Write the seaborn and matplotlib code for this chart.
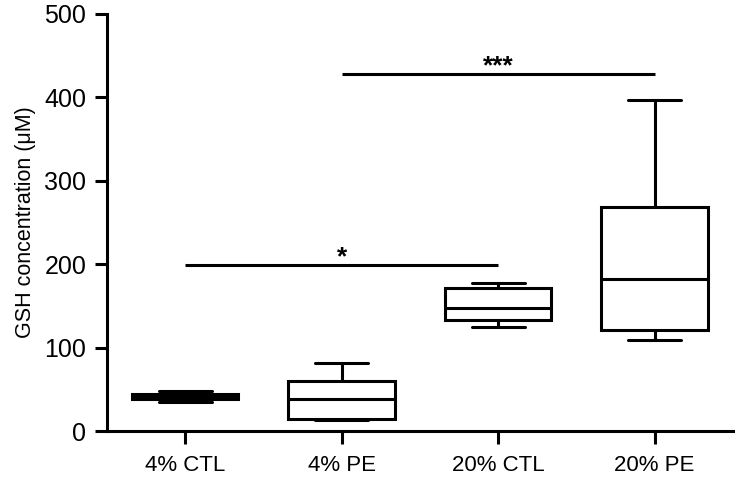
import pandas as pd
import matplotlib
matplotlib.use("Agg")
import matplotlib.pyplot as plt
import seaborn as sns

sns.set_style("ticks")
plt.rcParams['font.family'] = ['Liberation Sans', 'DejaVu Sans']
plt.rcParams.update({"text.color": "black", "axes.labelcolor": "black",
                     "xtick.color": "black", "ytick.color": "black",
                     "axes.edgecolor": "black"})

# five-number summaries: min, q1, median, q3, max
groups = ["4% CTL", "4% PE", "20% CTL", "20% PE"]
ctl4 = [35, 38, 41, 45, 48]
pe4 = [13, 15, 38, 60, 82]
ctl20 = [125, 133, 148, 172, 178]
pe20 = [109, 121, 182, 268, 397]

# significance bars: (from group, to group, height, label)
sig_pairs = [("4% CTL", "20% CTL", 199, "*"),
             ("4% PE", "20% PE", 428, "***")]

df = pd.DataFrame({
    "group": [g for g, v in zip(groups, [ctl4, pe4, ctl20, pe20]) for _ in v],
    "GSH": ctl4 + pe4 + ctl20 + pe20,
})

fig = plt.figure(figsize=(7.38, 4.78), dpi=100)
ax = fig.add_axes([0.145, 0.098, 0.848, 0.873])

lw = 2.2
sns.boxplot(x="group", y="GSH", data=df, order=groups, whis=(0, 100),
            width=0.68, color="white", linecolor="black", linewidth=lw,
            showfliers=False, ax=ax,
            boxprops=dict(facecolor="white", edgecolor="black", linewidth=lw),
            whiskerprops=dict(color="black", linewidth=lw),
            capprops=dict(color="black", linewidth=lw),
            medianprops=dict(color="black", linewidth=lw))
ax.set_xlim(-0.5, 3.5)
ax.set_ylim(0, 500)
ax.set_yticks([0, 100, 200, 300, 400, 500])

for a, b, h, lab in sig_pairs:
    x0, x1 = groups.index(a), groups.index(b)
    ax.plot([x0, x1], [h, h], color="black", lw=lw, solid_capstyle="butt")
    ax.text((x0 + x1) / 2, h - 5, lab, ha="center", va="bottom",
            fontsize=19, fontweight="bold")

sns.despine(ax=ax)
for s in ["left", "bottom"]:
    ax.spines[s].set_linewidth(lw)
ax.tick_params(axis="both", width=lw, length=9, color="black")
ax.tick_params(axis="y", labelsize=18, pad=6)
ax.tick_params(axis="x", labelsize=16, pad=8)
ax.set_xlabel("")
ax.set_ylabel("GSH concentration (μM)", fontsize=15.5, labelpad=6)

fig.savefig("out.png", dpi=100)
